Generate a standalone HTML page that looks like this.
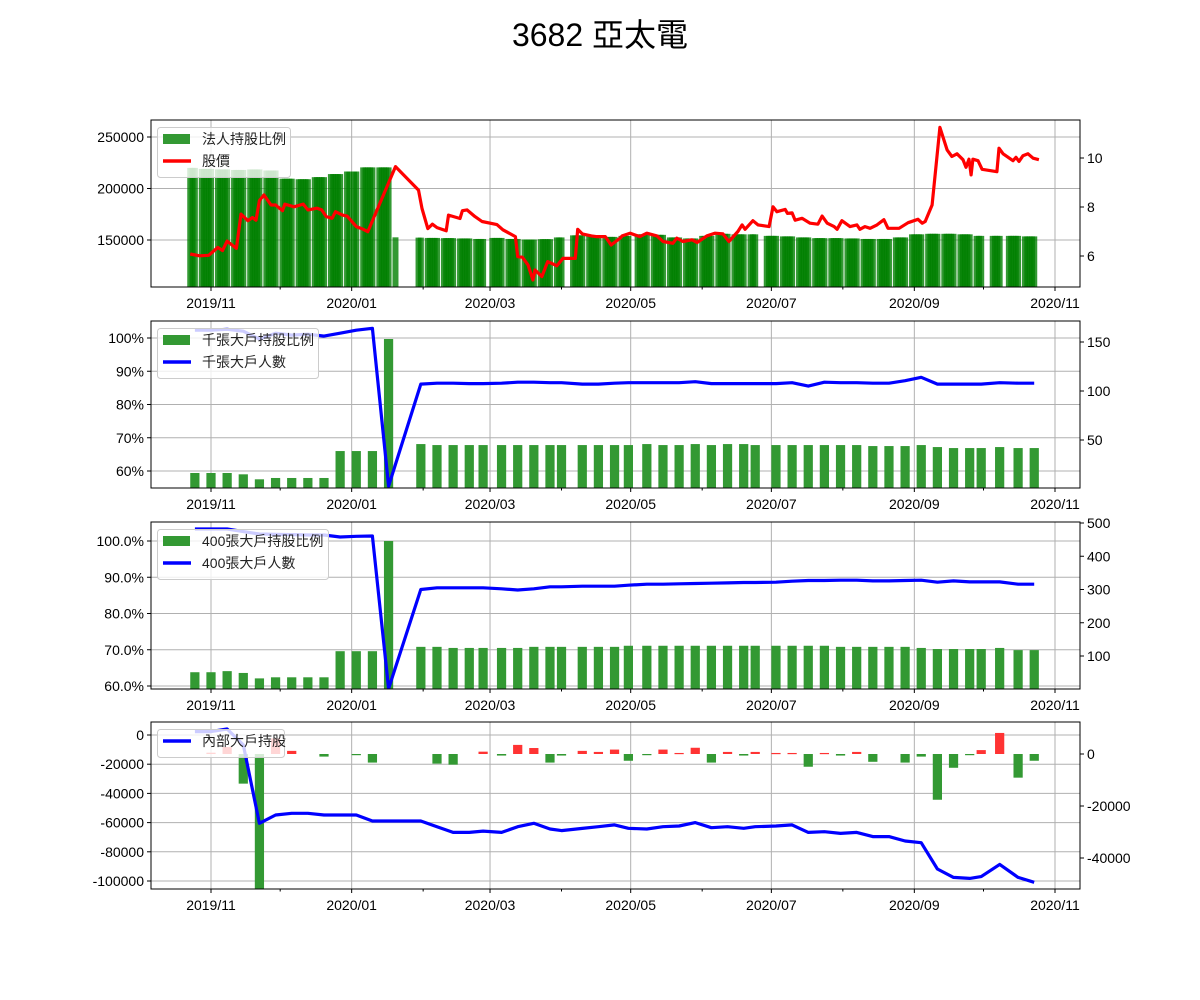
<!DOCTYPE html>
<html><head><meta charset="utf-8"><style>
html,body{margin:0;padding:0;background:#fff;}
svg{display:block;font-family:"Liberation Sans","Noto Sans CJK TC",sans-serif;}
</style></head><body>
<svg id="c" width="1200" height="1000" viewBox="0 0 1200 1000" xmlns="http://www.w3.org/2000/svg">
<text x="600" y="46" font-size="32" text-anchor="middle" fill="#000">3682 亞太電</text>
</svg>
<script>
// ---------- data ----------
const weekDates = ["2019-10-25","2019-11-01","2019-11-08","2019-11-15","2019-11-22","2019-11-29","2019-12-06","2019-12-13","2019-12-20","2019-12-27","2020-01-03","2020-01-10","2020-01-17","2020-01-31","2020-02-07","2020-02-14","2020-02-21","2020-02-27","2020-03-06","2020-03-13","2020-03-20","2020-03-27","2020-04-01","2020-04-10","2020-04-17","2020-04-24","2020-04-30","2020-05-08","2020-05-15","2020-05-22","2020-05-29","2020-06-05","2020-06-12","2020-06-19","2020-06-24","2020-07-03","2020-07-10","2020-07-17","2020-07-24","2020-07-31","2020-08-07","2020-08-14","2020-08-21","2020-08-28","2020-09-04","2020-09-11","2020-09-18","2020-09-25","2020-09-30","2020-10-08","2020-10-16","2020-10-23"];
// 千張大戶持股比例 (%)
const bigPct = [59.4,59.4,59.4,59.0,57.5,57.9,57.9,57.9,57.9,66.0,66.0,66.0,99.7,68.1,67.8,67.8,67.8,67.8,67.8,67.8,67.8,67.8,67.8,67.8,67.8,67.8,67.8,68.1,67.8,67.8,68.1,67.8,68.1,68.1,67.8,67.8,67.8,67.8,67.8,67.8,67.8,67.5,67.5,67.5,67.8,67.2,66.9,66.9,66.9,67.2,66.9,66.9];
// 千張大戶人數
const bigCount = [162,162,163,161,153,159,157,158,156,159,162,164,3,107,108,108,107.5,107.5,108,109,109,108.5,108.5,107,107,108,108.5,108.5,108.5,108.5,109.5,107.5,107.5,107.5,107.5,107.5,108.5,105,109,108.5,108.5,108,108,110.5,114,107,107,107,107,108.5,108,108];
// 400張大戶持股比例 (%)
const midPct = [63.8,63.8,64.1,63.6,62.1,62.4,62.4,62.4,62.4,69.6,69.6,69.6,100,70.8,70.8,70.5,70.5,70.5,70.5,70.5,70.8,70.8,70.8,70.8,70.8,70.8,71.1,71.1,71.1,71.1,71.1,71.1,71.1,71.1,71.1,71.1,71.1,71.1,71.1,70.8,70.8,70.8,70.8,70.8,70.5,70.2,70.2,70.2,70.2,70.5,69.9,69.9];
// 400張大戶人數
const midCount = [482,482,482,474,467,466,465,464,464,458,460,461,2,300,305,305,305,305,302,298.5,302,308,308,310,310,310,313,316,316,317,318,319,320,321,321,322,325,327,327,328,328,326,326,327,328,322,326,323,323,323,316,316];
// 內部大戶持股 (left axis)
const insider = [2300,2300,4100,-6800,-60500,-54800,-53600,-53600,-54800,-54800,-54800,-58900,-58900,-58900,-62800,-66700,-66700,-65800,-66700,-62800,-60500,-64400,-65500,-64000,-62800,-61600,-63900,-64400,-62800,-62300,-60000,-63500,-62800,-63900,-62800,-62300,-61600,-66700,-66200,-67400,-66700,-69600,-69600,-72600,-73800,-91800,-97500,-98200,-97000,-88600,-97500,-100900];
// 內部大戶持股 weekly change (right axis)
const insiderChg = [0,500,2700,-11400,-60000,6000,1200,0,-1000,0,-300,-3300,0,0,-3700,-4100,0,900,-600,3500,2300,-3300,-600,1200,800,1700,-2600,-300,1700,400,2400,-3300,800,-600,800,400,400,-4900,400,-600,800,-3000,0,-3300,-1000,-17600,-5300,-300,1500,8100,-9100,-2600];
// 法人持股 weekly levels (week starting Monday)
const instWeeks = ["2019-10-21","2019-10-28","2019-11-04","2019-11-11","2019-11-18","2019-11-25","2019-12-02","2019-12-09","2019-12-16","2019-12-23","2019-12-30","2020-01-06","2020-01-13","2020-01-20","2020-01-27","2020-02-03","2020-02-10","2020-02-17","2020-02-24","2020-03-02","2020-03-09","2020-03-16","2020-03-23","2020-03-30","2020-04-06","2020-04-13","2020-04-20","2020-04-27","2020-05-04","2020-05-11","2020-05-18","2020-05-25","2020-06-01","2020-06-08","2020-06-15","2020-06-22","2020-06-29","2020-07-06","2020-07-13","2020-07-20","2020-07-27","2020-08-03","2020-08-10","2020-08-17","2020-08-24","2020-08-31","2020-09-07","2020-09-14","2020-09-21","2020-09-28","2020-10-05","2020-10-12","2020-10-19"];
const instValues = [220000,219000,218500,218000,218500,217500,209500,209000,211000,214000,216500,220500,220500,152600,152300,152000,151800,151500,151000,152000,151000,150500,150800,152500,154500,154000,153000,154000,155500,155000,152500,151500,154000,156000,155500,155500,154000,153500,152500,151800,151800,151500,151000,151000,152500,155500,156000,156000,155500,154000,154000,154000,153500];
const holidays = ["2020-01-01","2020-01-21","2020-01-22","2020-01-23","2020-01-24","2020-01-27","2020-01-28","2020-01-29","2020-02-28","2020-04-02","2020-04-03","2020-05-01","2020-06-25","2020-06-26","2020-10-01","2020-10-02","2020-10-09"];
const tradeStart = "2019-10-23", tradeEnd = "2020-10-23";
// 股價: day offset from 2019-11-01, price
const priceDays = [-9,-5,-1,3,5,7,11,13,16,18,19.5,21,23,26,28,31,32,36,40,42,46,48,50,52.5,54,57,59,63,66,68,80,90,91.5,94,96,98,102,103,108,109,111,114.5,117.5,124,126.6,132,133,135,137.5,139.6,140.5,143.5,146,150,152.6,158,159,161,165,167,171,173.5,177.4,178.3,181.7,186,189,193.4,196,200.3,202,204.7,208.6,210.8,215,218.6,222,224.6,228.5,230.3,231.6,235,237.2,242,243.7,245.4,249,250,252,253.3,256.3,259.8,263.2,265,267.2,270.2,271.5,273.6,277.1,280.1,281.4,283.6,285.8,288.8,291.8,293.6,298.4,302.3,306.6,308.4,309.7,312.7,316.1,319.2,321.3,323.5,326.1,327.4,328.7,329.6,330.4,332.6,334.4,340.8,341.7,343.5,347.8,349.1,350.4,352.1,354.3,356.5,359];
const priceVals = [6.08,6.01,6.03,6.35,6.22,6.61,6.31,7.71,7.44,7.57,7.46,8.26,8.49,8.08,8.08,7.85,8.12,8.01,8.12,7.88,7.95,7.88,7.61,7.54,7.81,7.67,7.63,7.20,7.09,6.99,9.65,8.69,7.94,7.12,7.30,7.16,7.03,7.67,7.53,7.85,7.88,7.61,7.41,7.28,7.07,6.79,5.97,5.95,5.63,5.02,5.43,5.16,5.77,5.60,5.90,5.90,7.09,6.90,6.82,6.79,6.79,6.45,6.73,6.82,6.93,6.79,6.93,6.82,6.59,6.52,6.73,6.59,6.66,6.55,6.82,6.93,6.90,6.59,7.00,7.27,7.09,7.44,7.27,7.20,8.01,7.81,7.90,7.74,7.76,7.46,7.54,7.34,7.30,7.63,7.34,7.20,7.09,7.44,7.20,7.27,7.09,7.20,7.13,7.27,7.48,7.13,7.13,7.36,7.50,7.34,7.41,8.08,11.25,10.33,10.06,10.17,9.93,9.62,9.95,9.31,9.95,9.89,9.54,9.44,10.40,10.17,9.89,10.03,9.86,10.09,10.17,9.99,9.93];
const monthTicks = ["2019-11-01","2020-01-01","2020-03-01","2020-05-01","2020-07-01","2020-09-01","2020-11-01"];
const monthLabels = ["2019/11","2020/01","2020/03","2020/05","2020/07","2020/09","2020/11"];
const minorTicks = ["2019-12-01","2020-02-01","2020-04-01","2020-06-01","2020-08-01","2020-10-01"];

// ---------- helpers ----------
const NS = "http://www.w3.org/2000/svg";
const svg = document.getElementById("c");
const X0 = 151, X1 = 1080;
const BASE = Date.UTC(2019,10,1);
function dayOf(s){const p=s.split("-");return (Date.UTC(+p[0],+p[1]-1,+p[2])-BASE)/86400000;}
function xDay(d){return 211 + d*2.306;}
function xDate(s){return xDay(dayOf(s));}
function lin(v0,y0,v1,y1){return v=>y0+(v-v0)*(y1-y0)/(v1-v0);}
function mk(tag,attrs,parent){const e=document.createElementNS(NS,tag);for(const k in attrs)e.setAttribute(k,attrs[k]);(parent||svg).appendChild(e);return e;}

const panels = [
 {top:120,bot:287,name:"price-panel"},
 {top:321,bot:488,name:"thousand-lot-panel"},
 {top:522,bot:689,name:"four-hundred-lot-panel"},
 {top:722,bot:889,name:"insider-panel"}
];
const defs = mk("defs",{});
panels.forEach((p,i)=>{
  const cp = mk("clipPath",{id:"clip"+i},defs);
  mk("rect",{x:X0,y:p.top,width:X1-X0,height:p.bot-p.top},cp);
});

function panelFrame(p,i,leftTicks,leftFmt,yL,rightTicks,rightFmt,yR){
  const g = mk("g",{});
  
  
  p.g = g;
  const grid = mk("g",{stroke:"#b0b0b0","stroke-width":1},g);
  
  
  monthTicks.forEach(t=>{const x=xDate(t); if(x>X0&&x<X1) mk("line",{x1:x,x2:x,y1:p.top,y2:p.bot},grid);});
  leftTicks.forEach(v=>{const y=yL(v); mk("line",{x1:X0,x2:X1,y1:y,y2:y},grid);});
  p.plot = mk("g",{"clip-path":"url(#clip"+i+")"},g);
  const ax = mk("g",{"font-size":14,fill:"#000"},g);
  
  
  monthTicks.forEach((t,k)=>{const x=xDate(t);
    mk("line",{x1:x,x2:x,y1:p.bot,y2:p.bot+4,stroke:"#000"},ax);
    const tx=mk("text",{x:x,y:p.bot+21,"text-anchor":"middle"},ax); tx.textContent=monthLabels[k];
    
    
  });
  minorTicks.forEach(t=>{const x=xDate(t); mk("line",{x1:x,x2:x,y1:p.bot,y2:p.bot+2.5,stroke:"#000"},ax);});
  leftTicks.forEach(v=>{const y=yL(v);
    mk("line",{x1:X0-4,x2:X0,y1:y,y2:y,stroke:"#000"},ax);
    const tx=mk("text",{x:X0-7,y:y+5,"text-anchor":"end"},ax); tx.textContent=leftFmt(v);
    
    
  });
  rightTicks.forEach(v=>{const y=yR(v);
    mk("line",{x1:X1,x2:X1+4,y1:y,y2:y,stroke:"#000"},ax);
    const tx=mk("text",{x:X1+7,y:y+5,"text-anchor":"start"},ax); tx.textContent=rightFmt(v);
    
    
  });
}
function frameBorder(p){
  mk("rect",{x:X0,y:p.top,width:X1-X0,height:p.bot-p.top,fill:"none",stroke:"#000","stroke-width":1},p.g);
}
function legend(p,w,entries){
  const h = entries.length===2?50:28;
  const lg = mk("g",{},p.g);
  
  
  mk("rect",{x:157.5,y:p.top+7.5,width:w,height:h,rx:3,fill:"#fff","fill-opacity":0.8,stroke:"#ccc"},lg);
  entries.forEach((e,k)=>{
    const cy = p.top+19+k*22;
    const en = mk("g",{},lg);
    
    
    if(e.type==="bar") mk("rect",{x:163,y:cy-5,width:27,height:10,fill:e.color},en);
    else mk("line",{x1:163,x2:191,y1:cy,y2:cy,stroke:e.color,"stroke-width":3.5},en);
    const t = mk("text",{x:202,y:cy+5,"font-size":14,fill:"#222"},en); t.textContent=e.label;
  });
}
function polyline(parent,xs,ys,color,name){
  let d="";
  for(let k=0;k<xs.length;k++) d+=(k?"L":"M")+xs[k].toFixed(1)+","+ys[k].toFixed(1);
  const pth = mk("path",{d:d,fill:"none",stroke:color,"stroke-width":3.2,"stroke-linejoin":"round"},parent);
  
  
}
const GREEN = "#339933";
const BW = 4*2.306;

// ---------- Panel 1 ----------
{
  const p = panels[0];
  const yL = lin(150000,240,250000,137), yR = lin(6,256,10,158);
  panelFrame(p,0,[150000,200000,250000],v=>String(v),yL,[6,8,10],v=>String(v),yR);
  const hol = new Set(holidays);
  const s = dayOf(tradeStart), e = dayOf(tradeEnd);
  const wk = instWeeks.map(dayOf);
  const bars = mk("g",{},p.plot);
  
  
  for(let d=s; d<=e; d++){
    const dt = new Date(BASE+d*86400000);
    const wd = dt.getUTCDay();
    if(wd===0||wd===6) continue;
    const iso = dt.toISOString().slice(0,10);
    if(hol.has(iso)) continue;
    let wi = 0; for(let k=0;k<wk.length;k++) if(wk[k]<=d) wi=k;
    const v = instValues[wi];
    const x = xDay(d), w = 2.306*2.6;
    const r = mk("rect",{x:x-w/2,y:yL(v),width:w,height:p.bot-yL(v)+2,fill:"green","fill-opacity":0.8},bars);
    
    
  }
  polyline(p.plot,priceDays.map(xDay),priceVals.map(yR),"#ff0000","price-line");
  frameBorder(p);
  legend(p,133,[{type:"bar",color:GREEN,label:"法人持股比例"},{type:"line",color:"#ff0000",label:"股價"}]);
}
// ---------- Panel 2 ----------
{
  const p = panels[1];
  const yL = lin(60,471,100,338), yR = lin(50,440,150,342);
  panelFrame(p,1,[60,70,80,90,100],v=>v+"%",yL,[50,100,150],v=>String(v),yR);
  weekDates.forEach((d,k)=>{const x=xDate(d),y=yL(bigPct[k]);
    const r=mk("rect",{x:x-BW/2,y:y,width:BW,height:p.bot-y+2,fill:GREEN},p.plot);
    
    });
  polyline(p.plot,weekDates.map(xDate),bigCount.map(yR),"#0000ff","thousand-lot-count-line");
  frameBorder(p);
  legend(p,161,[{type:"bar",color:GREEN,label:"千張大戶持股比例"},{type:"line",color:"#0000ff",label:"千張大戶人數"}]);
}
// ---------- Panel 3 ----------
{
  const p = panels[2];
  const yL = lin(60,686,100,541), yR = lin(100,656,500,523);
  panelFrame(p,2,[60,70,80,90,100],v=>v.toFixed(1)+"%",yL,[100,200,300,400,500],v=>String(v),yR);
  weekDates.forEach((d,k)=>{const x=xDate(d),y=yL(midPct[k]);
    const r=mk("rect",{x:x-BW/2,y:y,width:BW,height:p.bot-y+2,fill:GREEN},p.plot);
    
    });
  polyline(p.plot,weekDates.map(xDate),midCount.map(yR),"#0000ff","four-hundred-lot-count-line");
  frameBorder(p);
  legend(p,171,[{type:"bar",color:GREEN,label:"400張大戶持股比例"},{type:"line",color:"#0000ff",label:"400張大戶人數"}]);
}
// ---------- Panel 4 ----------
{
  const p = panels[3];
  const yL = lin(0,735,-100000,881), yR = lin(0,754,-40000,858);
  panelFrame(p,3,[0,-20000,-40000,-60000,-80000,-100000],v=>String(v),yL,[0,-20000,-40000],v=>String(v),yR);
  weekDates.forEach((d,k)=>{const v=insiderChg[k]; if(v===0) return;
    const x=xDate(d), y0=yR(0), y1=yR(v);
    const r=mk("rect",{x:x-BW/2,y:Math.min(y0,y1),width:BW,height:Math.max(1.2,Math.abs(y1-y0)),fill:v>0?"#ff3333":GREEN},p.plot);
    
    });
  polyline(p.plot,weekDates.map(xDate),insider.map(yL),"#0000ff","insider-holding-line");
  frameBorder(p);
  legend(p,127,[{type:"line",color:"#0000ff",label:"內部大戶持股"}]);
}
</script>
</body></html>
